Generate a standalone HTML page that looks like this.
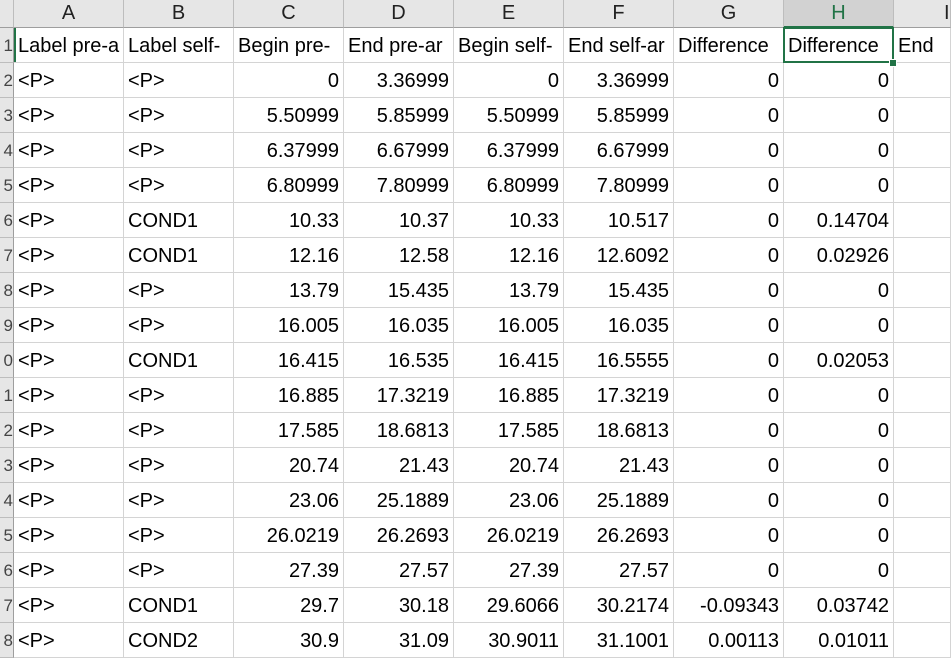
<!DOCTYPE html>
<html><head><meta charset="utf-8"><style>
html,body{margin:0;width:951px;height:658px;overflow:hidden}
body{background:#fff;font-family:"Liberation Sans",sans-serif;position:relative}
#g{position:absolute;left:0;top:0;width:951px;height:658px;overflow:hidden}
.c{position:absolute;box-sizing:border-box;border-right:1px solid #d4d4d4;border-bottom:1px solid #d4d4d4;font-size:20px;line-height:36px;white-space:nowrap;overflow:hidden;padding:0 4px;color:#000}
.h{position:absolute;box-sizing:border-box;background:#e6e6e6;border-right:1px solid #bdbdbd;border-bottom:1px solid #9e9e9e;font-size:20px;text-align:center;line-height:27px;color:#222;overflow:hidden}
.r{position:absolute;box-sizing:border-box;background:#e6e6e6;border-bottom:1px solid #bdbdbd;border-right:1px solid #9e9e9e;left:0;width:14px;font-size:17px;line-height:36px;text-align:right;overflow:hidden;color:#444}
.num{text-align:right}
</style></head><body>
<div id="g"></div>
<script>
const cols=["A","B","C","D","E","F","G","H","I"];
const xs=[14,124,234,344,454,564,674,784,894,951];
const headers=["Label pre-a","Label self-","Begin pre-","End pre-ar","Begin self-","End self-ar","Difference","Difference","End"];
const rows=[
["<P>","<P>","0","3.36999","0","3.36999","0","0"],
["<P>","<P>","5.50999","5.85999","5.50999","5.85999","0","0"],
["<P>","<P>","6.37999","6.67999","6.37999","6.67999","0","0"],
["<P>","<P>","6.80999","7.80999","6.80999","7.80999","0","0"],
["<P>","COND1","10.33","10.37","10.33","10.517","0","0.14704"],
["<P>","COND1","12.16","12.58","12.16","12.6092","0","0.02926"],
["<P>","<P>","13.79","15.435","13.79","15.435","0","0"],
["<P>","<P>","16.005","16.035","16.005","16.035","0","0"],
["<P>","COND1","16.415","16.535","16.415","16.5555","0","0.02053"],
["<P>","<P>","16.885","17.3219","16.885","17.3219","0","0"],
["<P>","<P>","17.585","18.6813","17.585","18.6813","0","0"],
["<P>","<P>","20.74","21.43","20.74","21.43","0","0"],
["<P>","<P>","23.06","25.1889","23.06","25.1889","0","0"],
["<P>","<P>","26.0219","26.2693","26.0219","26.2693","0","0"],
["<P>","<P>","27.39","27.57","27.39","27.57","0","0"],
["<P>","COND1","29.7","30.18","29.6066","30.2174","-0.09343","0.03742"],
["<P>","COND2","30.9","31.09","30.9011","31.1001","0.00113","0.01011"]];
const g=document.getElementById('g');
function mk(cls,x,y,w,h,t){const d=document.createElement('div');d.className=cls;d.style.left=x+'px';d.style.top=y+'px';d.style.width=w+'px';d.style.height=h+'px';d.textContent=t;g.appendChild(d);return d;}
const corner=mk('h',0,0,14,28,'');


cols.forEach((c,i)=>{const d=mk('h',xs[i],0,xs[i+1]-xs[i],28,c);


if(c==="I"){d.style.textAlign="left";d.style.paddingLeft="50px";}
if(c==="H"){d.style.background="#d2d2d2";d.style.color="#217346";d.style.borderBottom="2px solid #217346";}});
const rh=35,y0=28;
for(let r=0;r<18;r++){const d=mk('r',0,y0+r*rh,14,rh,String(r+1).slice(-1));

}
headers.forEach((t,i)=>{const d=mk('c',xs[i],y0,xs[i+1]-xs[i],rh,t);

});
rows.forEach((row,r)=>{for(let i=0;i<9;i++){const t=row[i]||'';const d=mk('c'+(i>=2?' num':''),xs[i],y0+(r+1)*rh,xs[i+1]-xs[i],rh,t);

}});
const sel=document.createElement('div');
sel.style.cssText='position:absolute;left:783px;top:27px;width:111px;height:36px;box-sizing:border-box;border:2px solid #217346;';


g.appendChild(sel);
const hd=document.createElement('div');
hd.style.cssText='position:absolute;left:889px;top:59px;width:6px;height:6px;background:#217346;border:1px solid #fff;';


g.appendChild(hd);
const ab=document.createElement('div');
ab.style.cssText='position:absolute;left:14px;top:28px;width:2px;height:34px;background:#217346;';


g.appendChild(ab);
</script>
</body></html>
